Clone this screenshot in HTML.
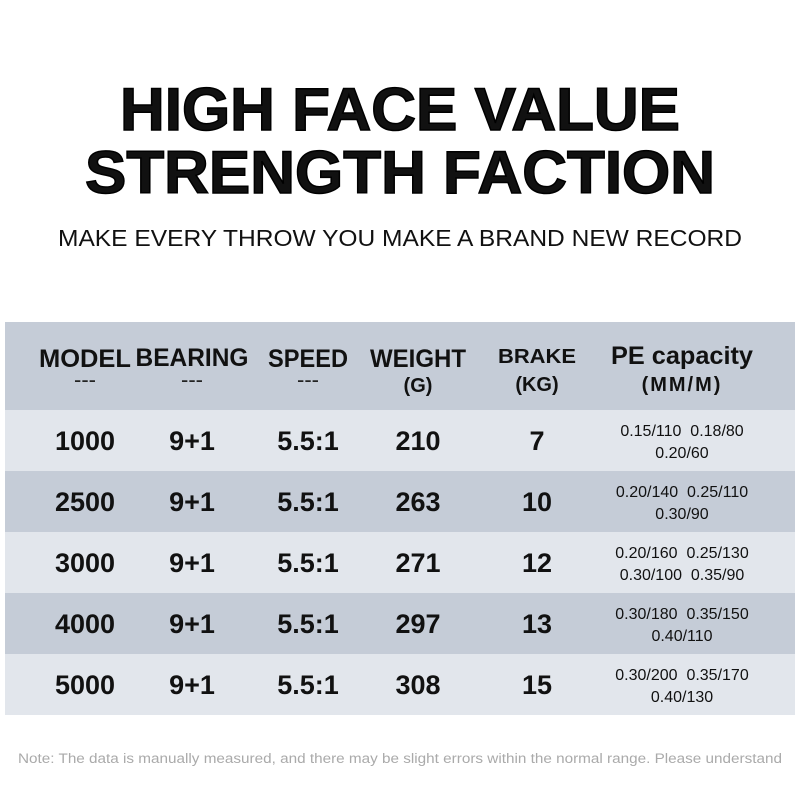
<!DOCTYPE html>
<html><head><meta charset="utf-8"><style>
html,body{margin:0;padding:0;background:#fff;}
svg{display:block}
text{font-family:"Liberation Sans",sans-serif;fill:#111;}
.h{font-size:25px;font-weight:bold;text-anchor:middle}
.dash{font-size:22px;text-anchor:middle;fill:#222}
.s{font-size:20px;font-weight:bold;text-anchor:middle}
.d{font-size:27px;text-anchor:middle;font-weight:bold}
.p{font-size:16px;text-anchor:middle;fill:#111}
</style></head><body>
<svg width="800" height="800" viewBox="0 0 800 800">
<rect width="800" height="800" fill="#fff"/>
<text x="400" y="130" font-size="60" font-weight="bold" text-anchor="middle" textLength="560" lengthAdjust="spacingAndGlyphs" fill="#000" stroke="#000" stroke-width="1.5">HIGH FACE VALUE</text>
<text x="400" y="193" font-size="60" font-weight="bold" text-anchor="middle" textLength="630" lengthAdjust="spacingAndGlyphs" fill="#000" stroke="#000" stroke-width="1.5">STRENGTH FACTION</text>
<text x="400" y="246" font-size="23" text-anchor="middle" textLength="684" lengthAdjust="spacingAndGlyphs" fill="#000">MAKE EVERY THROW YOU MAKE A BRAND NEW RECORD</text>

<rect x="5" y="322" width="790" height="88" fill="#c5ccd7"/>
<rect x="5" y="410" width="790" height="61" fill="#e2e6ec"/>
<rect x="5" y="471" width="790" height="61" fill="#c5ccd7"/>
<rect x="5" y="532" width="790" height="61" fill="#e2e6ec"/>
<rect x="5" y="593" width="790" height="61" fill="#c5ccd7"/>
<rect x="5" y="654" width="790" height="61" fill="#e2e6ec"/>

<text class="h" x="85" y="367" textLength="92" lengthAdjust="spacingAndGlyphs">MODEL</text>
<text class="h" x="192" y="366" textLength="113" lengthAdjust="spacingAndGlyphs">BEARING</text>
<text class="h" x="308" y="367" textLength="80" lengthAdjust="spacingAndGlyphs">SPEED</text>
<text class="h" x="418" y="367" textLength="96" lengthAdjust="spacingAndGlyphs">WEIGHT</text>
<text class="s" x="537" y="363" textLength="78" lengthAdjust="spacingAndGlyphs">BRAKE</text>
<text class="h" x="682" y="364" textLength="142" lengthAdjust="spacingAndGlyphs">PE capacity</text>
<text class="dash" x="85" y="387">---</text>
<text class="dash" x="192" y="387">---</text>
<text class="dash" x="308" y="387">---</text>
<text class="s" x="418" y="392">(G)</text>
<text class="s" x="537" y="391">(KG)</text>
<text class="s" x="682" y="391" letter-spacing="2">(MM/M)</text>

<g>
<text class="d" x="85" y="450">1000</text><text class="d" x="192" y="450">9+1</text><text class="d" x="308" y="450">5.5:1</text><text class="d" x="418" y="450">210</text><text class="d" x="537" y="450">7</text>
<text class="p" x="682" y="436">0.15/110&#160;&#160;0.18/80</text><text class="p" x="682" y="458">0.20/60</text>

<text class="d" x="85" y="511">2500</text><text class="d" x="192" y="511">9+1</text><text class="d" x="308" y="511">5.5:1</text><text class="d" x="418" y="511">263</text><text class="d" x="537" y="511">10</text>
<text class="p" x="682" y="497">0.20/140&#160;&#160;0.25/110</text><text class="p" x="682" y="519">0.30/90</text>

<text class="d" x="85" y="572">3000</text><text class="d" x="192" y="572">9+1</text><text class="d" x="308" y="572">5.5:1</text><text class="d" x="418" y="572">271</text><text class="d" x="537" y="572">12</text>
<text class="p" x="682" y="558">0.20/160&#160;&#160;0.25/130</text><text class="p" x="682" y="580">0.30/100&#160;&#160;0.35/90</text>

<text class="d" x="85" y="633">4000</text><text class="d" x="192" y="633">9+1</text><text class="d" x="308" y="633">5.5:1</text><text class="d" x="418" y="633">297</text><text class="d" x="537" y="633">13</text>
<text class="p" x="682" y="619">0.30/180&#160;&#160;0.35/150</text><text class="p" x="682" y="641">0.40/110</text>

<text class="d" x="85" y="694">5000</text><text class="d" x="192" y="694">9+1</text><text class="d" x="308" y="694">5.5:1</text><text class="d" x="418" y="694">308</text><text class="d" x="537" y="694">15</text>
<text class="p" x="682" y="680">0.30/200&#160;&#160;0.35/170</text><text class="p" x="682" y="702">0.40/130</text>
</g>

<text x="400" y="763" font-size="13.5" text-anchor="middle" textLength="764" lengthAdjust="spacingAndGlyphs" style="fill:#aaaaaa">Note: The data is manually measured, and there may be slight errors within the normal range. Please understand</text>
</svg>
</body></html>
